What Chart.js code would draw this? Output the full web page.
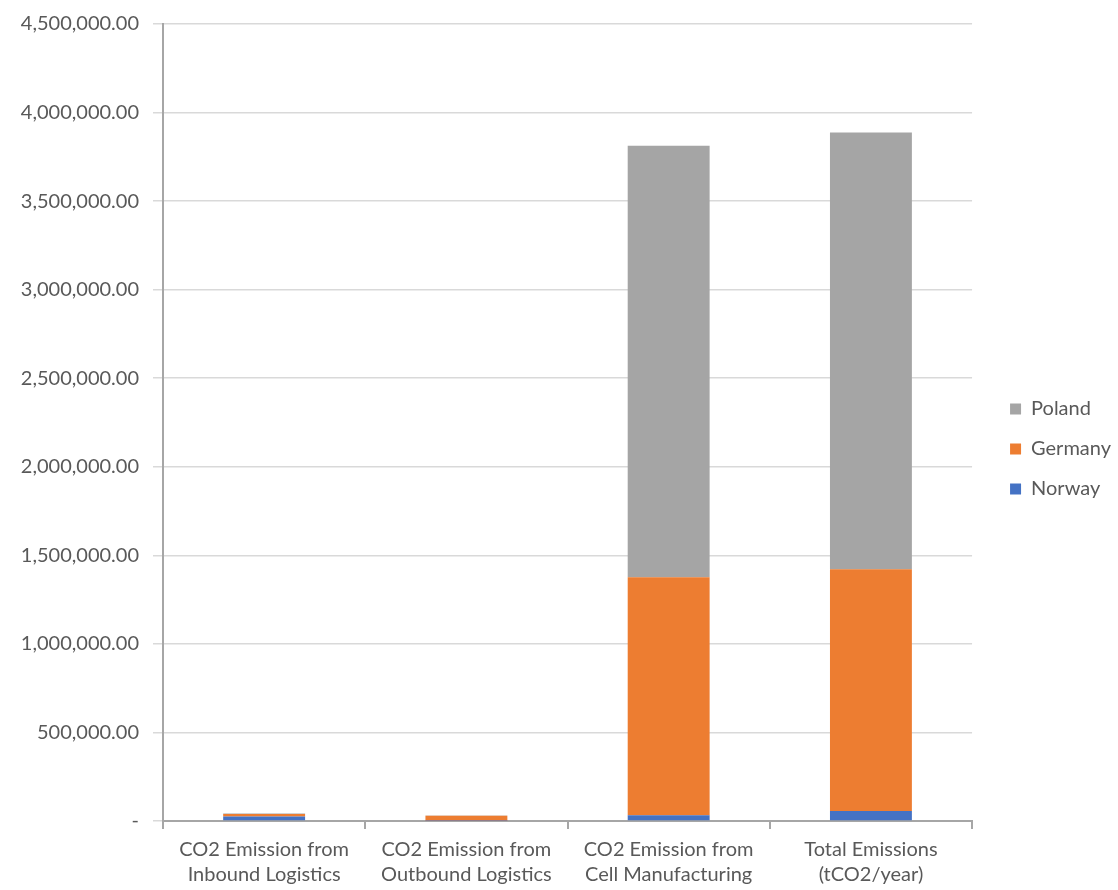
<!DOCTYPE html>
<html>
<head>
<meta charset="utf-8">
<script src="https://cdn.jsdelivr.net/npm/chart.js@4/dist/chart.umd.min.js"></script>
<style>
html,body{margin:0;padding:0;background:#fff;}
#wrap{width:1118px;height:890px;}
</style>
</head>
<body>
<div id="wrap"><canvas id="c" width="1118" height="890"></canvas></div>
<script>
const categories = [
  ["CO2 Emission from", "Inbound Logistics"],
  ["CO2 Emission from", "Outbound Logistics"],
  ["CO2 Emission from", "Cell Manufacturing"],
  ["Total Emissions", "(tCO2/year)"]
];
const norway  = [26000, 2000, 32000, 56000];
const germany = [13000, 28000, 1344000, 1366000];
const poland  = [3000, 1000, 2437000, 2465000];
const yMax = 4500000;
const yStep = 500000;

const fontFamily = "Lato, 'Open Sans', sans-serif";
const textColor = '#595959';

const legendShift = {
  id: 'legendShift',
  afterLayout(chart) {
    const lg = chart.legend;
    if (lg) { lg.left += 18; lg.right += 18; }
  }
};

new Chart(document.getElementById('c'), {
  type: 'bar',
  data: {
    labels: categories,
    datasets: [
      {label: 'Norway', data: norway, backgroundColor: '#4472C4', order: 1},
      {label: 'Germany', data: germany, backgroundColor: '#ED7D31', order: 2},
      {label: 'Poland', data: poland, backgroundColor: '#A5A5A5', order: 3}
    ]
  },
  plugins: [legendShift],
  options: {
    responsive: false,
    animation: false,
    layout: {padding: {top: 3, right: 15, left: 0, bottom: -5}},
    datasets: {bar: {categoryPercentage: 1.0, barPercentage: 0.405}},
    plugins: {
      legend: {
        position: 'right',
        reverse: true,
        labels: {
          boxWidth: 11, boxHeight: 11, padding: 20,
          color: textColor,
          font: {family: fontFamily, size: 20}
        }
      },
      tooltip: {enabled: false}
    },
    scales: {
      x: {
        stacked: true,
        grid: {offset: true, drawOnChartArea: false, drawTicks: true, tickLength: 8, color: '#a6a6a6', lineWidth: 2},
        border: {color: '#a6a6a6', width: 2},
        ticks: {color: textColor, font: {family: fontFamily, size: 20, lineHeight: 1.25}, padding: 8, maxRotation: 0},
      },
      y: {
        stacked: true,
        min: 0, max: yMax,
        afterFit: (s) => { s.width = 163; },
        grid: {color: '#d9d9d9', lineWidth: 1.5, tickLength: 10, drawTicks: true},
        border: {color: '#a6a6a6', width: 2},
        ticks: {
          stepSize: yStep,
          color: textColor,
          font: {family: fontFamily, size: 20, lineHeight: 1.0},
          padding: 14,
          callback: (v) => v === 0 ? '-' : v.toLocaleString('en-US', {minimumFractionDigits: 2, maximumFractionDigits: 2})
        }
      }
    }
  }
});
</script>
</body>
</html>
